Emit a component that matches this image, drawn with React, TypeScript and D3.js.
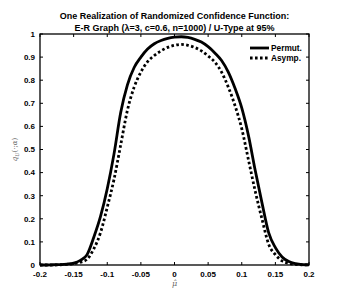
import React, { useRef, useEffect } from 'react';
import * as d3 from 'd3';

// grid of mu-hat values, step 0.01
const muHat = d3.range(-20, 21).map(i => i / 100);

const permut = [
  0, 0, 0.001, 0.002, 0.004, 0.008, 0.02, 0.045, 0.12, 0.21,
  0.33, 0.48, 0.66, 0.78, 0.855, 0.9, 0.935, 0.958, 0.972, 0.981,
  0.986, 0.988, 0.985, 0.977, 0.965, 0.945, 0.918, 0.885, 0.835, 0.765,
  0.68, 0.56, 0.41, 0.27, 0.14, 0.075, 0.035, 0.015, 0.006, 0.002, 0.001
];

const asymp = [
  0, 0, 0, 0.001, 0.003, 0.006, 0.012, 0.025, 0.07, 0.14,
  0.25, 0.37, 0.52, 0.67, 0.77, 0.835, 0.88, 0.907, 0.927, 0.942,
  0.951, 0.955, 0.951, 0.942, 0.927, 0.905, 0.878, 0.835, 0.77, 0.69,
  0.59, 0.455, 0.32, 0.2, 0.09, 0.045, 0.018, 0.007, 0.003, 0.001, 0
];

const xTicks = [-0.2, -0.15, -0.1, -0.05, 0, 0.05, 0.1, 0.15, 0.2];
const yTicks = [0, 0.1, 0.2, 0.3, 0.4, 0.5, 0.6, 0.7, 0.8, 0.9, 1];
const seriesNames = ['Permut.', 'Asymp.'];

const App = () => {
  const svgRef = useRef<SVGSVGElement>(null);

  useEffect(() => {
    const svg = d3.select(svgRef.current);
    svg.selectAll('*').remove();

    const left = 40, right = 309, top = 34, bottom = 265;
    const font = 'Liberation Sans, Arial, sans-serif';

    const x = d3.scaleLinear().domain([-0.2, 0.2]).range([left, right]);
    const y = d3.scaleLinear().domain([0, 1]).range([bottom, top]);

    svg.append('rect')
      .attr('width', 357).attr('height', 307).attr('fill', '#fff');

    const line = d3.line<number>()
      .x((d, i) => x(muHat[i]))
      .y(d => y(d))
      .curve(d3.curveMonotoneX);

    svg.append('path')
      .datum(asymp)
      .attr('d', line)
      .attr('fill', 'none')
      .attr('stroke', '#000')
      .attr('stroke-width', 2.8)
      .attr('stroke-dasharray', '2.6,2.4');

    svg.append('path')
      .datum(permut)
      .attr('d', line)
      .attr('fill', 'none')
      .attr('stroke', '#000')
      .attr('stroke-width', 2.8);

    // axes box
    svg.append('rect')
      .attr('x', left).attr('y', top)
      .attr('width', right - left).attr('height', bottom - top)
      .attr('fill', 'none').attr('stroke', '#000').attr('stroke-width', 1.3);

    const tl = 3;
    xTicks.forEach(t => {
      svg.append('line').attr('x1', x(t)).attr('x2', x(t)).attr('y1', bottom).attr('y2', bottom - tl)
        .attr('stroke', '#000').attr('stroke-width', 1);
      svg.append('line').attr('x1', x(t)).attr('x2', x(t)).attr('y1', top).attr('y2', top + tl)
        .attr('stroke', '#000').attr('stroke-width', 1);
      svg.append('text')
        .attr('x', x(t)).attr('y', bottom + 12)
        .attr('text-anchor', 'middle')
        .attr('font-family', font).attr('font-size', 8).attr('font-weight', 'bold')
        .text(String(t));
    });
    yTicks.forEach(t => {
      svg.append('line').attr('x1', left).attr('x2', left + tl).attr('y1', y(t)).attr('y2', y(t))
        .attr('stroke', '#000').attr('stroke-width', 1);
      svg.append('line').attr('x1', right).attr('x2', right - tl).attr('y1', y(t)).attr('y2', y(t))
        .attr('stroke', '#000').attr('stroke-width', 1);
      svg.append('text')
        .attr('x', left - 5).attr('y', y(t) + 2.8)
        .attr('text-anchor', 'end')
        .attr('font-family', font).attr('font-size', 8).attr('font-weight', 'bold')
        .text(String(t));
    });

    // title
    const title = svg.append('text')
      .attr('text-anchor', 'middle')
      .attr('font-family', font).attr('font-size', 9).attr('font-weight', 'bold');
    title.append('tspan').attr('x', (left + right) / 2).attr('y', 19)
      .text('One Realization of Randomized Confidence Function:');
    title.append('tspan').attr('x', (left + right) / 2).attr('y', 31)
      .text('E-R Graph (λ=3, c=0.6, n=1000) / U-Type at 95%');

    // axis labels
    svg.append('text')
      .attr('x', (left + right) / 2).attr('y', 286)
      .attr('text-anchor', 'middle')
      .attr('font-family', 'DejaVu Serif, serif').attr('font-style', 'italic')
      .attr('font-size', 8).attr('fill', '#666')
      .text('μ̂');

    const yl = svg.append('text')
      .attr('transform', `translate(17, ${(top + bottom) / 2}) rotate(-90)`)
      .attr('text-anchor', 'middle')
      .attr('font-family', 'DejaVu Serif, serif')
      .attr('font-size', 7).attr('fill', '#666');
    yl.append('tspan').attr('font-style', 'italic').text('q');
    yl.append('tspan').attr('font-size', 5).attr('dy', 2).attr('font-style', 'italic').text('U');
    yl.append('tspan').attr('dy', -2).text('(·;');
    yl.append('tspan').attr('font-style', 'italic').text('α');
    yl.append('tspan').text(')');

    // legend
    const lg = svg.append('g');
    seriesNames.forEach((name, i) => {
      const ly = 48 + i * 10;
      lg.append('line')
        .attr('x1', 250).attr('x2', 269).attr('y1', ly).attr('y2', ly)
        .attr('stroke', '#000').attr('stroke-width', 2.8)
        .attr('stroke-dasharray', i === 1 ? '2.6,2.4' : null);
      lg.append('text')
        .attr('x', 271).attr('y', ly + 3)
        .attr('font-family', font).attr('font-size', 8.3).attr('font-weight', 'bold')
        .text(name);
    });
  }, []);

  return <svg ref={svgRef} width={357} height={307} style={{ display: 'block', position: 'absolute', left: 0, top: 0 }}></svg>;
};

export default App;
